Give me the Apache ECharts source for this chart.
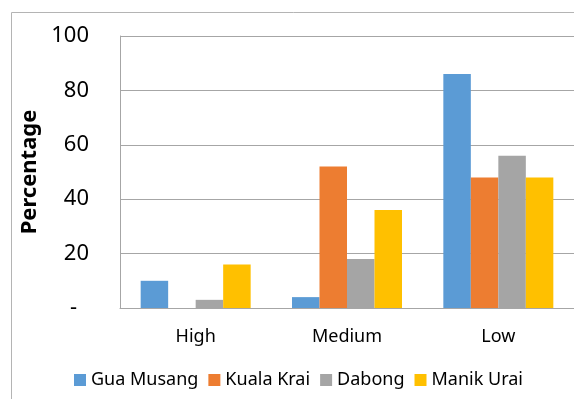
<!DOCTYPE html>
<html>
<head>
<meta charset="utf-8">
<script src="https://cdn.jsdelivr.net/npm/echarts@6/dist/echarts.min.js"></script>
<style>
  html, body { margin: 0; padding: 0; background: #fff; }
  #chart { width: 574px; height: 399px; }
</style>
</head>
<body>
<div id="chart"></div>
<script>
const categories = ['High', 'Medium', 'Low']
const seriesNames = ['Gua Musang', 'Kuala Krai', 'Dabong', 'Manik Urai']
const guaMusang = [10, 4, 86]
const kualaKrai = [0, 52, 48]
const dabong = [3, 18, 56]
const manikUrai = [16, 36, 48]
const colors = ['#5b9bd5', '#ed7d31', '#a5a5a5', '#ffc000']

const font = '"Noto Sans", "Open Sans", sans-serif'
const values = [guaMusang, kualaKrai, dabong, manikUrai]

let myChart = echarts.init(document.getElementById('chart'))
myChart.setOption({
  color: colors,
  animation: false,
  textStyle: { fontFamily: font, color: '#000' },
  graphic: [
    {
      type: 'rect',
      shape: { x: 11.5, y: 12.5, width: 700, height: 500 },
      style: { fill: 'none', stroke: '#b4b4b4', lineWidth: 1 },
      z: -1
    }
  ],
  grid: { left: 120, right: 0, top: 36, bottom: 91 },
  legend: {
    data: seriesNames,
    bottom: 5,
    left: 69,
    itemWidth: 12,
    itemHeight: 12,
    itemGap: 10,
    icon: 'rect',
    textStyle: { fontFamily: font, fontSize: 18, color: '#000' }
  },
  xAxis: {
    type: 'category',
    data: categories,
    axisTick: { show: false },
    axisLine: { lineStyle: { color: '#a6a6a6' } },
    axisLabel: { fontFamily: font, fontSize: 18, color: '#000', margin: 20 }
  },
  yAxis: {
    type: 'value',
    min: 0,
    max: 100,
    interval: 20,
    name: 'Percentage',
    nameLocation: 'middle',
    nameGap: 70,
    nameTextStyle: { fontFamily: font, fontSize: 22, fontWeight: 'bold', color: '#000' },
    axisLine: { show: true, lineStyle: { color: '#a6a6a6' } },
    axisTick: { show: false },
    splitLine: { lineStyle: { color: '#a6a6a6' } },
    axisLabel: {
      fontFamily: font,
      fontSize: 22,
      color: '#000',
      margin: 31,
      formatter: v => (v === 0 ? '{d|-}' : v),
      rich: { d: { fontFamily: font, fontSize: 22, color: '#000', padding: [0, 12, 0, 0] } }
    }
  },
  series: seriesNames.map((name, i) => ({
    name: name,
    type: 'bar',
    barWidth: 27.5,
    barGap: '0%',
    data: values[i]
  }))
})
</script>
</body>
</html>
